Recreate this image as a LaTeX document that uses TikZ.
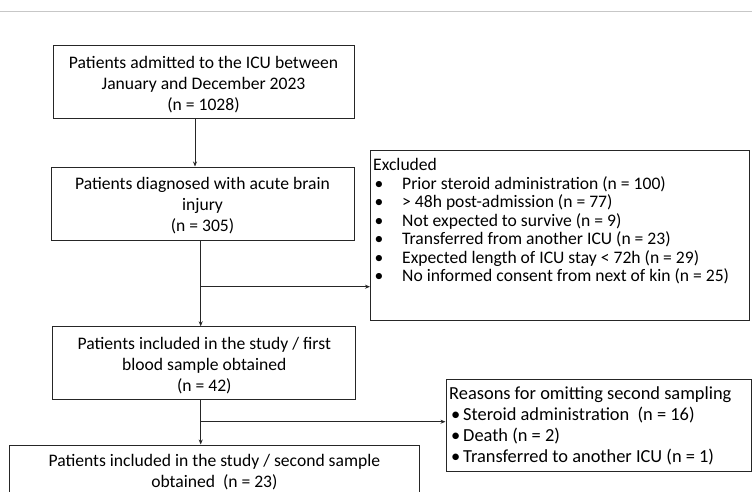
\documentclass[tikz,border=0pt]{standalone}
\usepackage{fontspec}
\setmainfont{Carlito}
\usetikzlibrary{arrows.meta}
\begin{document}
\begin{tikzpicture}[x=1pt,y=-1pt,
  box/.style={draw=black!85,line width=1pt,inner sep=0pt},
  boxtext/.style={inner sep=0pt,align=center,font=\fontsize{17.6}{21}\selectfont},
  arr/.style={line width=0.9pt,draw=black!85,-{Stealth[length=5pt,width=4pt]}},
  ln/.style={line width=0.9pt,draw=black!85}]
\useasboundingbox (0,0) rectangle (752,491);
\clip (0,0) rectangle (752,491);
\fill[white] (0,0) rectangle (752,491);
\draw[black!22,line width=1pt] (0,11) -- (752,11);

\node[box,minimum width=301pt,minimum height=73pt] (b1) at (203.5,81.5) {};
\node[boxtext] (b1t) at ([yshift=-2.8pt]b1.center)
  {Patients admitted to the ICU between\\January and December 2023\\(n = 1028)};
\node[box,minimum width=303pt,minimum height=73pt] (b2) at (202.5,203.5) {};
\node[boxtext] (b2t) at ([yshift=-2pt]b2.center)
  {Patients diagnosed with acute brain\\injury\\(n = 305)};
\node[box,minimum width=303pt,minimum height=73pt] (b3) at (204.3,363.3) {};
\node[boxtext] (b3t) at ([yshift=-2.5pt]b3.center)
  {Patients included in the study / first\\blood sample obtained\\(n = 42)};
\node[box,minimum width=410pt,minimum height=56pt] (b4) at (214.4,473) {};
\node[boxtext] (b4t) at ([yshift=0.5pt]b4.center)
  {Patients included in the study / second sample\\obtained\ \ (n = 23)};

\node[draw=black!85,line width=1pt,minimum width=378.5pt,minimum height=170pt,inner sep=0pt] (ex) at (559.75,235) {};
\node[anchor=north west,inner sep=0pt,align=left,font=\fontsize{17.6}{18.5}\selectfont] (ext) at (373,158.5)
  {Excluded\\
  \makebox[29pt][l]{\hspace{1.5pt}•}Prior steroid administration (n = 100)\\
  \makebox[29pt][l]{\hspace{1.5pt}•}> 48h post-admission (n = 77)\\
  \makebox[29pt][l]{\hspace{1.5pt}•}Not expected to survive (n = 9)\\
  \makebox[29pt][l]{\hspace{1.5pt}•}Transferred from another ICU (n = 23)\\
  \makebox[29pt][l]{\hspace{1.5pt}•}Expected length of ICU stay < 72h (n = 29)\\
  \makebox[29pt][l]{\hspace{1.5pt}•}No informed consent from next of kin (n = 25)};

\node[draw=black!85,line width=1pt,minimum width=305pt,minimum height=92pt,inner sep=0pt] (rs) at (598.5,425) {};
\node[anchor=west,inner sep=0pt,align=left,font=\fontsize{18.4}{21}\selectfont] (rst) at (449,425.5)
  {Reasons for omitting second sampling\\
  \makebox[14pt][l]{\hspace{2pt}•}Steroid administration\ \ (n = 16)\\
  \makebox[14pt][l]{\hspace{2pt}•}Death (n = 2)\\
  \makebox[14pt][l]{\hspace{2pt}•}Transferred to another ICU (n = 1)};

\coordinate (j1) at (200.7,286.7);
\coordinate (j2) at (200.7,421.7);
\draw[arr] ([xshift=-8.5pt]b1.south) -- ([xshift=-7.5pt]b2.north);
\draw[ln] (b2.south -| j1) -- (j1);
\draw[arr] (j1) -- (b3.north -| j1);
\draw[arr] (j1) -- (ex.west |- j1);
\draw[ln] (b3.south -| j2) -- (j2);
\draw[arr] (j2) -- (b4.north -| j2);
\draw[arr] (j2) -- (rs.west |- j2);
\end{tikzpicture}
\end{document}
